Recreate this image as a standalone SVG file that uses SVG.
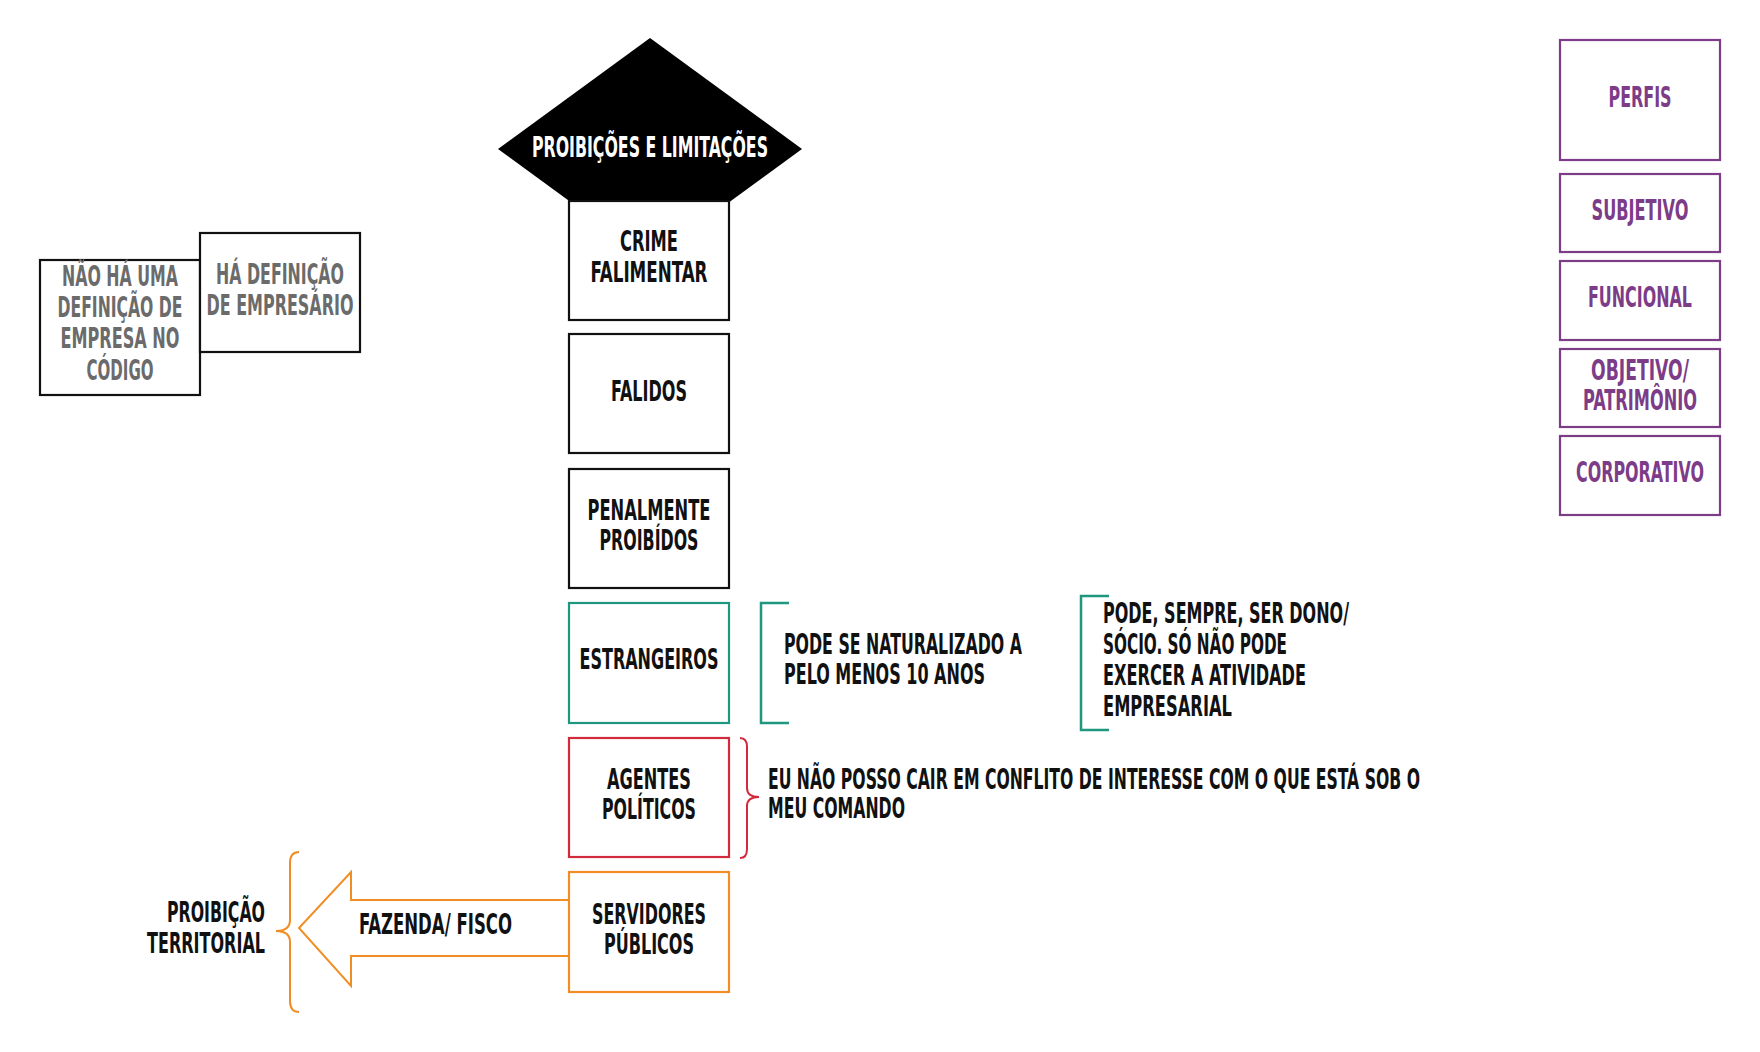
<svg xmlns="http://www.w3.org/2000/svg" width="1760" height="1052" viewBox="0 0 1760 1052">
<style>
text{font-family:'Liberation Sans Narrow','DejaVu Sans Condensed','Liberation Sans',sans-serif;font-weight:bold;font-size:29px;fill:#111;}
.c{text-anchor:middle;}
.e{text-anchor:end;}
.w{fill:#fff;}
.g{fill:#6b6b6b;}
.p{fill:#7d3c88;}
.box{fill:#fff;stroke:#111;stroke-width:2.2;}
.pbox{fill:#fff;stroke:#7d3c88;stroke-width:2.2;}
.tbox{fill:#fff;stroke:#1f967e;stroke-width:2.2;}
.rbox{fill:#fff;stroke:#d02a3c;stroke-width:2.2;}
.obox{fill:#fff;stroke:#f08d24;stroke-width:2.2;}
.teal{fill:none;stroke:#1f967e;stroke-width:2.5;}
.red{fill:none;stroke:#d02a3c;stroke-width:2;}
.org{fill:none;stroke:#f08d24;stroke-width:2;}
</style>
<rect width="1760" height="1052" fill="#fff"/>

<g id="title">
<polygon points="650,38 802,149 650,260 498,149" fill="#000"/>
<text class="c w" x="650" y="157" textLength="236" lengthAdjust="spacingAndGlyphs">PROIBIÇÕES E LIMITAÇÕES</text>
</g>

<g id="crime">
<rect class="box" x="569" y="201" width="160" height="119"/>
<text class="c" x="649" y="251" textLength="58" lengthAdjust="spacingAndGlyphs">CRIME</text>
<text class="c" x="649" y="282" textLength="117" lengthAdjust="spacingAndGlyphs">FALIMENTAR</text>
</g>

<g id="falidos">
<rect class="box" x="569" y="334" width="160" height="119"/>
<text class="c" x="649" y="401" textLength="76" lengthAdjust="spacingAndGlyphs">FALIDOS</text>
</g>

<g id="penalmente">
<rect class="box" x="569" y="469" width="160" height="119"/>
<text class="c" x="649" y="520" textLength="123" lengthAdjust="spacingAndGlyphs">PENALMENTE</text>
<text class="c" x="649" y="550" textLength="99" lengthAdjust="spacingAndGlyphs">PROIBÍDOS</text>
</g>

<g id="estrangeiros">
<rect class="tbox" x="569" y="603" width="160" height="120"/>
<text class="c" x="649" y="669" textLength="139" lengthAdjust="spacingAndGlyphs">ESTRANGEIROS</text>
</g>

<g id="agentes">
<rect class="rbox" x="569" y="738" width="160" height="119"/>
<text class="c" x="649" y="789" textLength="84" lengthAdjust="spacingAndGlyphs">AGENTES</text>
<text class="c" x="649" y="819" textLength="94" lengthAdjust="spacingAndGlyphs">POLÍTICOS</text>
</g>

<g id="connectors">
<polygon points="570,900 351,900 351,872 299,928 351,986 351,956 570,956" fill="#fff" stroke="#f08d24" stroke-width="2"/>
<path class="teal" d="M789,603 H761 V723 H789"/>
<path class="teal" d="M1109,596 H1081 V730 H1109"/>
<path class="red" d="M740,738 Q747,738 747,747 V788 Q747,797 759,797 Q747,797 747,806 V849 Q747,858 740,858"/>
<path class="org" d="M299,852 Q290,852 290,863 V920 Q290,931 276,931 Q290,931 290,942 V1001 Q290,1012 299,1012"/>
</g>

<g id="servidores">
<rect class="obox" x="569" y="872" width="160" height="120"/>
<text class="c" x="649" y="924" textLength="114" lengthAdjust="spacingAndGlyphs">SERVIDORES</text>
<text class="c" x="649" y="954" textLength="90" lengthAdjust="spacingAndGlyphs">PÚBLICOS</text>
</g>

<g id="fazenda">
<text x="359" y="934" textLength="153" lengthAdjust="spacingAndGlyphs">FAZENDA/ FISCO</text>
</g>

<g id="territorial">
<text class="e" x="265" y="922" textLength="98" lengthAdjust="spacingAndGlyphs">PROIBIÇÃO</text>
<text class="e" x="265" y="953" textLength="118" lengthAdjust="spacingAndGlyphs">TERRITORIAL</text>
</g>

<g id="naturalizado">
<text x="784" y="654" textLength="238" lengthAdjust="spacingAndGlyphs">PODE SE NATURALIZADO A</text>
<text x="784" y="684" textLength="201" lengthAdjust="spacingAndGlyphs">PELO MENOS 10 ANOS</text>
</g>

<g id="dono">
<text x="1103" y="623" textLength="246" lengthAdjust="spacingAndGlyphs">PODE, SEMPRE, SER DONO/</text>
<text x="1103" y="654" textLength="184" lengthAdjust="spacingAndGlyphs">SÓCIO. SÓ NÃO PODE</text>
<text x="1103" y="685" textLength="203" lengthAdjust="spacingAndGlyphs">EXERCER A ATIVIDADE</text>
<text x="1103" y="716" textLength="129" lengthAdjust="spacingAndGlyphs">EMPRESARIAL</text>
</g>

<g id="conflito">
<text x="768" y="789" textLength="652" lengthAdjust="spacingAndGlyphs">EU NÃO POSSO CAIR EM CONFLITO DE INTERESSE COM O QUE ESTÁ SOB O</text>
<text x="768" y="818" textLength="137" lengthAdjust="spacingAndGlyphs">MEU COMANDO</text>
</g>

<g id="empresa">
<rect class="box" x="40" y="260" width="160" height="135"/>
<text class="c g" x="120" y="286" textLength="116" lengthAdjust="spacingAndGlyphs">NÃO HÁ UMA</text>
<text class="c g" x="120" y="317" textLength="125" lengthAdjust="spacingAndGlyphs">DEFINIÇÃO DE</text>
<text class="c g" x="120" y="348" textLength="119" lengthAdjust="spacingAndGlyphs">EMPRESA NO</text>
<text class="c g" x="120" y="380" textLength="67" lengthAdjust="spacingAndGlyphs">CÓDIGO</text>
</g>

<g id="empresario">
<rect class="box" x="200" y="233" width="160" height="119"/>
<text class="c g" x="280" y="284" textLength="128" lengthAdjust="spacingAndGlyphs">HÁ DEFINIÇÃO</text>
<text class="c g" x="280" y="315" textLength="147" lengthAdjust="spacingAndGlyphs">DE EMPRESÁRIO</text>
</g>

<g id="perfis">
<rect class="pbox" x="1560" y="40" width="160" height="120"/>
<text class="c p" x="1640" y="107" textLength="63" lengthAdjust="spacingAndGlyphs">PERFIS</text>
</g>
<g id="subjetivo">
<rect class="pbox" x="1560" y="174" width="160" height="78"/>
<text class="c p" x="1640" y="220" textLength="97" lengthAdjust="spacingAndGlyphs">SUBJETIVO</text>
</g>
<g id="funcional">
<rect class="pbox" x="1560" y="261" width="160" height="79"/>
<text class="c p" x="1640" y="307" textLength="104" lengthAdjust="spacingAndGlyphs">FUNCIONAL</text>
</g>
<g id="objetivo">
<rect class="pbox" x="1560" y="349" width="160" height="78"/>
<text class="c p" x="1640" y="380" textLength="98" lengthAdjust="spacingAndGlyphs">OBJETIVO/</text>
<text class="c p" x="1640" y="410" textLength="114" lengthAdjust="spacingAndGlyphs">PATRIMÔNIO</text>
</g>
<g id="corporativo">
<rect class="pbox" x="1560" y="436" width="160" height="79"/>
<text class="c p" x="1640" y="482" textLength="128" lengthAdjust="spacingAndGlyphs">CORPORATIVO</text>
</g>
</svg>
